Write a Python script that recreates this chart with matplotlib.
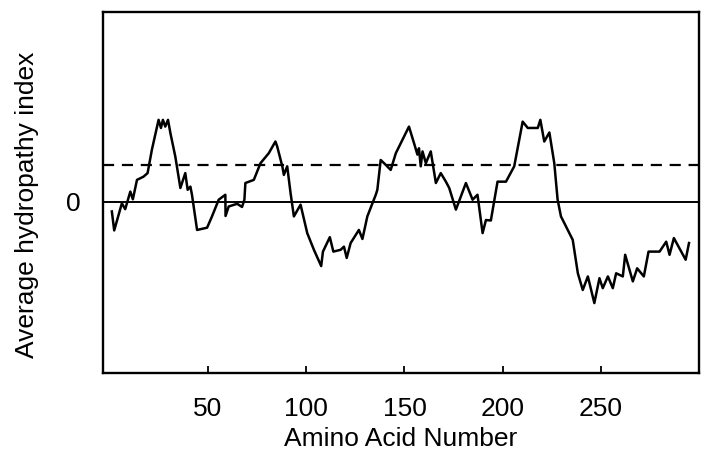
import matplotlib
matplotlib.use('Agg')
import matplotlib.pyplot as plt

plt.rcParams['font.family'] = ['Liberation Sans', 'DejaVu Sans']

# hydropathy profile (residue number, average index)
residue = [1, 2.2, 6.1, 7.8, 10.4, 11.7, 13.8, 17.1, 19.2, 21.4, 24.8, 26, 27, 28.2,
           29.6, 30.8, 33.3, 35.9, 38.4, 39.6, 41, 41.8, 44.4, 49.5, 52, 55.4, 58.8,
           58.9, 60.5, 64.8, 67.3, 68.5, 69, 73.3, 76.7, 80.9, 84.3, 85.2, 87.8, 88.6,
           90.3, 92, 93.7, 97.1, 100.5, 103.9, 107.6, 108.5, 112, 113.8, 117.5, 119.2,
           120.6, 122.6, 126.8, 128.6, 131.1, 135.4, 136.2, 137.9, 139.6, 143, 145.6,
           152.3, 154.9, 156.6, 157.4, 158.3, 159.2, 160.9, 163.4, 166, 168.5, 171.1,
           172.8, 176.2, 181.3, 184.7, 187.2, 189.8, 191.5, 194, 197.4, 201.7, 205.9,
           210.2, 212.8, 217.9, 219.2, 221.2, 223.8, 226.3, 228, 229.7, 235.7, 238.3,
           240.8, 243.4, 246.7, 249.3, 251, 253.6, 256.1, 257.8, 261.2, 262.4, 266.3,
           268.5, 271.9, 274.3, 279.9, 283.3, 285, 287.2, 293.2, 294.9]
hydropathy = [-0.22, -0.64, -0.04, -0.17, 0.22, 0.05, 0.48, 0.55, 0.63, 1.15, 1.81, 1.63,
              1.81, 1.66, 1.81, 1.52, 1.0, 0.3, 0.63, 0.26, 0.33, 0.15, -0.63, -0.58,
              -0.33, 0.04, 0.15, -0.32, -0.11, -0.05, -0.12, 0.04, 0.41, 0.48, 0.85,
              1.07, 1.33, 1.22, 0.78, 0.59, 0.78, 0.19, -0.33, -0.07, -0.7, -1.07,
              -1.43, -1.11, -0.79, -1.11, -1.07, -1.0, -1.25, -0.92, -0.63, -0.83,
              -0.33, 0.15, 0.26, 0.92, 0.85, 0.7, 1.07, 1.66, 1.29, 1.04, 1.18, 0.78,
              1.11, 0.85, 1.11, 0.41, 0.63, 0.44, 0.3, -0.18, 0.41, 0.04, 0.15, -0.7,
              -0.41, -0.42, 0.44, 0.44, 0.78, 1.77, 1.63, 1.63, 1.81, 1.33, 1.53, 0.85,
              0.04, -0.33, -0.85, -1.59, -1.96, -1.66, -2.25, -1.7, -1.92, -1.66, -1.92,
              -1.59, -1.66, -1.18, -1.77, -1.48, -1.66, -1.11, -1.11, -0.89, -1.18,
              -0.81, -1.29, -0.92]

threshold = 0.8
x_ticks = [50, 100, 150, 200, 250]

fig = plt.figure(figsize=(7.07, 4.54), dpi=100)
ax = fig.add_axes([0.1457, 0.1784, 0.8430, 0.7952])

ax.plot(residue, hydropathy, color='black', linewidth=1.8)
ax.axhline(0, color='black', linewidth=1.4)
ax.axhline(threshold, color='black', linewidth=1.6, linestyle=(0, (5, 3.5)))

ax.set_xlim(-3.5, 300)
ax.set_ylim(-3.8, 4.2)

ax.set_xticks(x_ticks)
ax.set_yticks([0])
ax.tick_params(axis='x', direction='in', length=5, width=1.3, labelsize=19, pad=17)
ax.tick_params(axis='y', length=0, labelsize=19, pad=16)

for s in ax.spines.values():
    s.set_linewidth(1.7)

ax.set_xlabel('Amino Acid Number', fontsize=19)
ax.set_ylabel('Average hydropathy index', fontsize=19)
ax.xaxis.set_label_coords(0.5, -0.15)
ax.yaxis.set_label_coords(-0.108, 0.465)

fig.savefig('out.png', dpi=100, facecolor='white')
